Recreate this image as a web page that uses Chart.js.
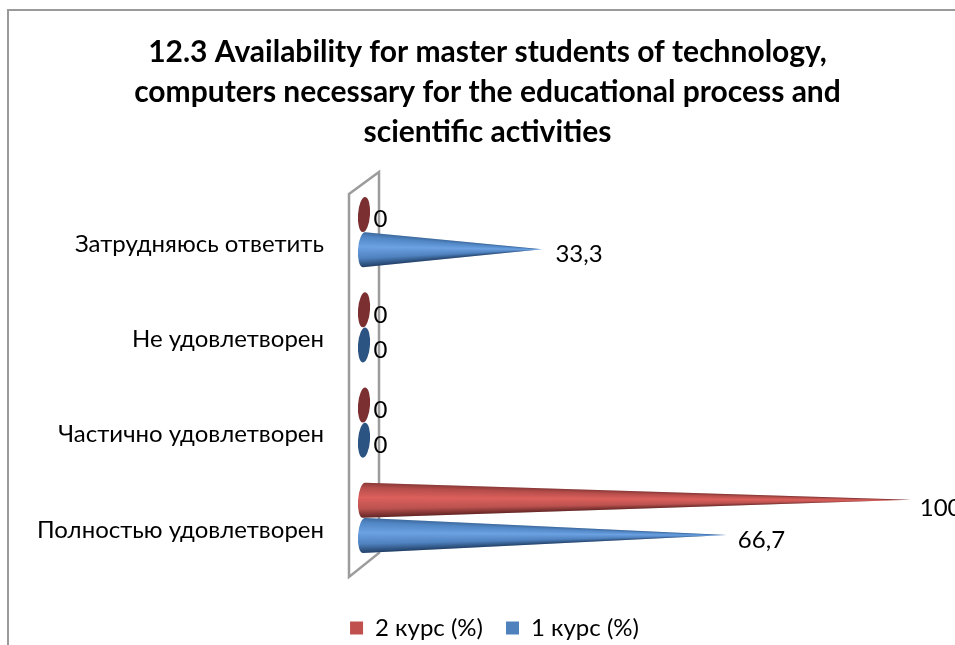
<!DOCTYPE html>
<html><head><meta charset="utf-8">
<style>html,body{margin:0;padding:0;background:#fff;overflow:hidden}canvas{display:block}</style>
<script src="https://cdn.jsdelivr.net/npm/chart.js@4"></script>
</head><body><canvas id="c" width="955" height="645"></canvas>
<script>
const categories = ['Затрудняюсь ответить','Не удовлетворен','Частично удовлетворен','Полностью удовлетворен'];
const course2 = [0,0,0,100];
const course1 = [33.3,0,0,66.7];
const titleLines = ['12.3 Availability for master students of technology,','computers necessary for the educational process and','scientific activities'];
const FONT = 'Lato, "Noto Sans", sans-serif';
const palettes = [
 {stops:[[0,'#8a3a38'],[.14,'#b54d4a'],[.42,'#dc605c'],[.74,'#bb524f'],[1,'#5f2423']],flat:'#7b2f30'},
 {stops:[[0,'#3d6a9e'],[.14,'#5287c6'],[.42,'#6ca1e2'],[.74,'#4f82bf'],[1,'#213f66']],flat:'#2c5482'}
];
const coneRx = 6, tilt = 0.07;
const conePlugin = {
 id:'cone',
 beforeDraw(chart){
  const c=chart.ctx;c.save();c.fillStyle='#fff';c.fillRect(0,0,chart.width,chart.height);
  c.strokeStyle='#9a9a9a';c.lineWidth=2;c.beginPath();c.moveTo(8,645);c.lineTo(8,10);c.lineTo(955,10);c.stroke();
  const x0=chart.scales.x.getPixelForValue(0);
  const a=chart.chartArea;
  c.strokeStyle='#9c9c9c';c.lineWidth=2.5;c.lineJoin='miter';c.beginPath();
  c.moveTo(x0-9,a.top+9.5);c.lineTo(x0+21,a.top-12.5);c.lineTo(x0+21,a.bottom-12.5);c.lineTo(x0-9,a.bottom+11.5);c.closePath();c.stroke();
  c.restore();
 },
 afterLayout(chart){
  const l=chart.legend;
  l.top+=27.5;l.bottom+=27.5;l.left+=7;l.right+=7;
 },
 beforeDatasetDraw(chart,args){
  const c=chart.ctx,meta=chart.getDatasetMeta(args.index),pal=palettes[args.index];
  meta.data.forEach(el=>{
   const p=el.getProps(['x','y','base','height'],false);
   const ry=p.height/2,cx=p.base+coneRx,cy=p.y,tip=p.x;
   c.save();
   if(tip<=p.base+1){
    c.fillStyle=pal.flat;c.beginPath();c.ellipse(cx,cy,coneRx,ry,tilt,0,Math.PI*2);c.fill();c.restore();return;
   }
   c.beginPath();
   c.ellipse(cx,cy,coneRx,ry,tilt,-Math.PI/2,Math.PI/2,true);
   c.lineTo(tip,cy-0.5);c.closePath();c.clip();
   for(let x=Math.floor(p.base);x<tip;x++){
    const h=Math.max(ry*(tip-Math.max(x,cx))/(tip-cx),0.4);
    const g=c.createLinearGradient(0,cy-h,0,cy+h);
    pal.stops.forEach(s=>g.addColorStop(s[0],s[1]));
    c.fillStyle=g;c.fillRect(x,cy-h-1.5,1.2,2*h+3);
   }
   c.restore();
  });
  return false;
 },
 afterDatasetsDraw(chart){
  const c=chart.ctx;c.save();c.fillStyle='#000';c.font='24px '+FONT;c.textAlign='left';c.textBaseline='middle';
  chart.data.datasets.forEach((d,i)=>{
   chart.getDatasetMeta(i).data.forEach((el,j)=>{
    const v=d.data[j],p=el.getProps(['x','y'],false);
    c.fillText(String(v).replace('.',','),p.x+15.5-0.065*v,p.y+(v>90?8:5));
   });
  });
  c.restore();
 }
};
new Chart(document.getElementById('c'),{
 type:'bar',
 data:{labels:categories,datasets:[
  {label:'2 курс (%)',data:course2,backgroundColor:'#c0504d',categoryPercentage:.737,barPercentage:1},
  {label:'1 курс (%)',data:course1,backgroundColor:'#4f81bd',categoryPercentage:.737,barPercentage:1}
 ]},
 options:{
  indexAxis:'y',responsive:false,animation:false,
  layout:{padding:{left:20,right:0,top:32,bottom:22.5}},
  scales:{
   x:{min:0,max:108,display:false,grid:{display:false}},
   y:{grid:{display:false,tickLength:0},border:{display:false},
      ticks:{color:'#000',font:{family:FONT,size:24},padding:34,labelOffset:12},
      afterFit(s){s.width=338;}}
  },
  plugins:{
   tooltip:{enabled:false},
   title:{display:true,text:titleLines,color:'#000',font:{family:FONT,size:30,weight:'bold',lineHeight:1.333},padding:{top:0,bottom:32.5}},
   legend:{position:'bottom',labels:{color:'#000',font:{family:FONT,size:24},boxWidth:13,boxHeight:13,padding:23}}
  }
 },
 plugins:[conePlugin]
});
</script></body></html>
